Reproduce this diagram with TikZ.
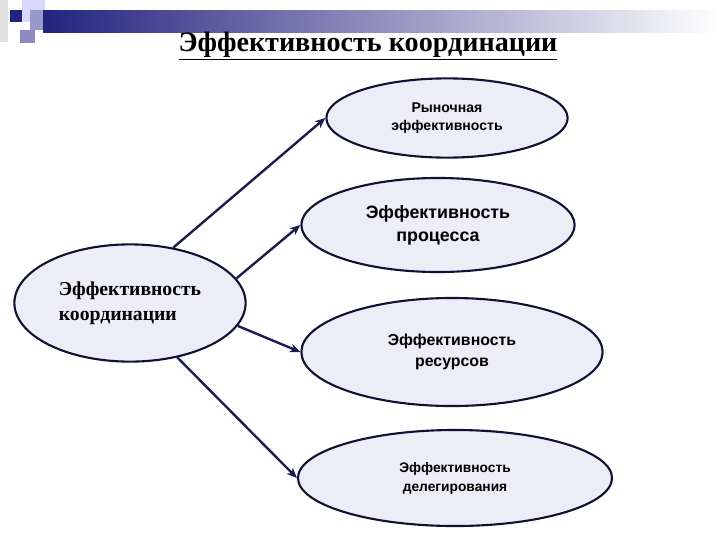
\documentclass[tikz,border=0pt]{standalone}
\usepackage{fontspec}
\setmainfont{Liberation Serif}
\setsansfont{Liberation Sans}
\usepackage{xcolor}
\usetikzlibrary{arrows.meta,positioning,shapes.geometric}

\definecolor{linkblue}{HTML}{1C1C50}
\definecolor{ovalfill}{HTML}{EDEDF7}
\definecolor{ovaldraw}{HTML}{111133}
\definecolor{barblue}{HTML}{23237E}
\definecolor{barmid}{HTML}{9A9AB8}

\begin{document}
\begin{tikzpicture}[
  x=0.025cm, y=-0.025cm,
  oval/.style={ellipse, draw=ovaldraw, line width=1.5pt, fill=ovalfill, inner sep=0pt, align=center},
  goal/.style={oval, font=\sffamily\bfseries},
  arrow/.style={-{Stealth[length=2.6mm,width=2.2mm]}, draw=linkblue, line width=1.7pt}
]
\useasboundingbox (0,0) rectangle (720,540);

% header decoration
\fill[black!12] (0,0) rectangle (8,42);
\fill[blue!15] (22,0) rectangle (45,22);
\fill[blue!35!gray!60] (30,10) rectangle (55,30);
\fill[blue!30!gray!70] (20,30) rectangle (35,43);
\fill[barblue] (10,10) rectangle (22,22);
\shade[left color=barblue, middle color=barmid, right color=white] (43,10) rectangle (720,32);

\node[font=\bfseries\fontsize{20}{22}\selectfont] (title) at (368,46) {\underline{Эффективность координации}};

\node[oval, minimum width=5.78cm, minimum height=2.93cm, font=\bfseries\fontsize{14}{17.8}\selectfont, align=left] (coord) at (130,303) {Эффективность\\координации};

\node[goal, minimum width=6.03cm, minimum height=1.98cm, font=\sffamily\bfseries\fontsize{10}{12.8}\selectfont] (market) at (447,118) {Рыночная\\эффективность};
\node[goal, minimum width=6.83cm, minimum height=2.35cm, font=\sffamily\bfseries\fontsize{12.7}{16.4}\selectfont] (process) at (438,225) {Эффективность\\процесса};
\node[goal, minimum width=7.53cm, minimum height=2.7cm, font=\sffamily\bfseries\fontsize{11.3}{15}\selectfont] (resource) at (452,352) {Эффективность\\ресурсов};
\node[goal, minimum width=7.85cm, minimum height=2.4cm, font=\sffamily\bfseries\fontsize{9.8}{13.5}\selectfont] (deleg) at (455,478) {Эффективность\\делегирования};

\draw[arrow] (coord.52) -- (market.west);
\draw[arrow] (coord.13) -- (process.west);
\draw[arrow] (coord.-12) -- (resource.west);
\draw[arrow] (coord.-49) -- (deleg.west);
\end{tikzpicture}
\end{document}
